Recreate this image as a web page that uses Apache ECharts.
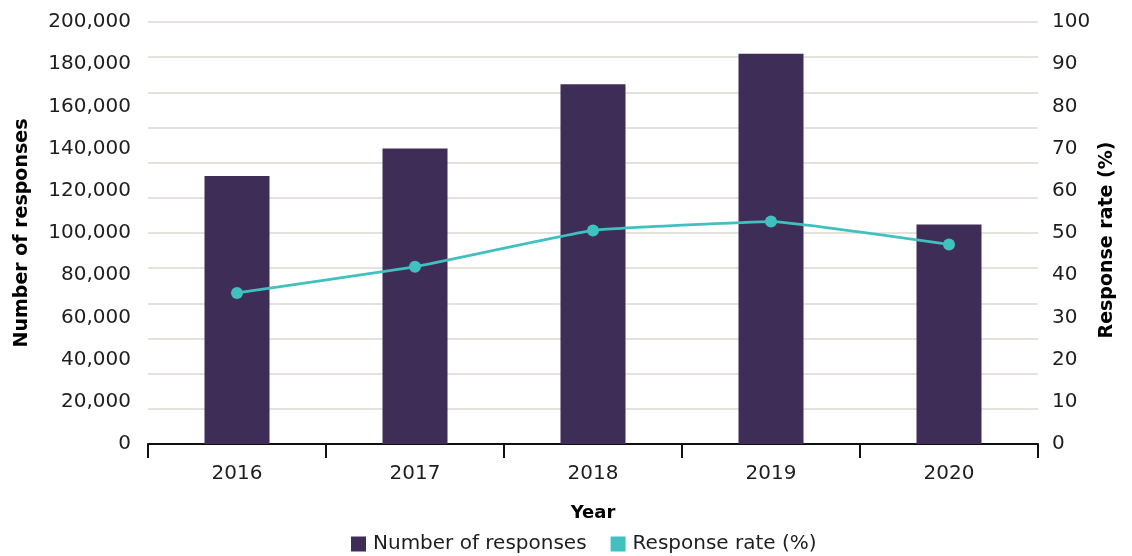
<!DOCTYPE html>
<html>
<head>
<meta charset="utf-8">
<script src="https://cdn.jsdelivr.net/npm/echarts@6/dist/echarts.min.js"></script>
<style>
  html, body { margin: 0; padding: 0; background: #ffffff; }
  #chart { width: 1132px; height: 556px; }
</style>
</head>
<body>
<div id="chart"></div>
<script>
// Survey responses per year and the corresponding response rate
const years = ['2016', '2017', '2018', '2019', '2020'];
const responses = [127000, 140000, 170500, 185000, 104000];
const responseRate = [35.8, 42.0, 50.6, 52.7, 47.3];

const FONT = 'DejaVu Sans';
const PURPLE = '#3e2d56';
const TEAL = '#40c1c0';
const INK = '#1e1e1e';

const chart = echarts.init(document.getElementById('chart'), null, { renderer: 'canvas' });

chart.setOption({
  animation: false,
  textStyle: { fontFamily: FONT, color: INK },
  grid: { left: 148, right: 94, top: 22, bottom: 112, containLabel: false },
  legend: {
    top: 529,
    left: 346,
    icon: 'rect',
    itemWidth: 15,
    itemHeight: 15,
    itemGap: 24,
    textStyle: { fontFamily: FONT, fontSize: 20, color: INK, padding: [0, 0, 0, 2] },
    data: ['Number of responses', 'Response rate (%)']
  },
  xAxis: {
    type: 'category',
    data: years,
    boundaryGap: true,
    axisLine: { lineStyle: { color: '#111', width: 2 } },
    axisTick: { show: true, length: 14, lineStyle: { color: '#111', width: 2 } },
    axisLabel: { fontFamily: FONT, fontSize: 20, color: INK, margin: 20 },
    name: 'Year',
    nameLocation: 'middle',
    nameGap: 60,
    nameTextStyle: { fontFamily: FONT, fontSize: 18, fontWeight: 'bold', color: '#000' }
  },
  yAxis: [
    {
      type: 'value',
      position: 'left',
      min: 0, max: 200000, interval: 20000,
      axisLine: { show: false },
      axisTick: { show: false },
      splitLine: { show: false },
      axisLabel: {
        fontFamily: FONT, fontSize: 20, color: INK, margin: 17,
        padding: [5, 0, 0, 0],
        formatter: v => v.toLocaleString('en-US')
      }
    },
    {
      type: 'value',
      position: 'right',
      min: 0, max: 100, interval: 10,
      axisLine: { show: false },
      axisTick: { show: false },
      splitLine: { show: false },
      axisLabel: { fontFamily: FONT, fontSize: 20, color: INK, margin: 14, padding: [5, 0, 0, 0] }
    },
    {
      // background grid: twelve even bands
      type: 'value',
      position: 'left',
      min: 0, max: 12, interval: 1,
      axisLine: { show: false },
      axisTick: { show: false },
      axisLabel: { show: false },
      splitLine: { show: true, lineStyle: { color: '#dcd8d2', width: 1.5 } }
    }
  ],
  graphic: [
    {
      type: 'text',
      x: 22, y: 233,
      rotation: Math.PI / 2,
      style: {
        text: 'Number of responses',
        fontFamily: FONT, fontSize: 19, fontWeight: 'bold', fill: '#000',
        align: 'center', verticalAlign: 'middle'
      }
    },
    {
      type: 'text',
      x: 1107, y: 240,
      rotation: Math.PI / 2,
      style: {
        text: 'Response rate (%)',
        fontFamily: FONT, fontSize: 19, fontWeight: 'bold', fill: '#000',
        align: 'center', verticalAlign: 'middle'
      }
    }
  ],
  series: [
    {
      name: 'Number of responses',
      type: 'bar',
      yAxisIndex: 0,
      data: responses,
      barWidth: 65,
      itemStyle: { color: PURPLE },
      z: 2
    },
    {
      name: 'Response rate (%)',
      type: 'line',
      yAxisIndex: 1,
      data: responseRate,
      smooth: 0.1,
      symbol: 'circle',
      symbolSize: 12,
      lineStyle: { color: TEAL, width: 2.8 },
      itemStyle: { color: TEAL },
      z: 3
    }
  ]
});
</script>
</body>
</html>
